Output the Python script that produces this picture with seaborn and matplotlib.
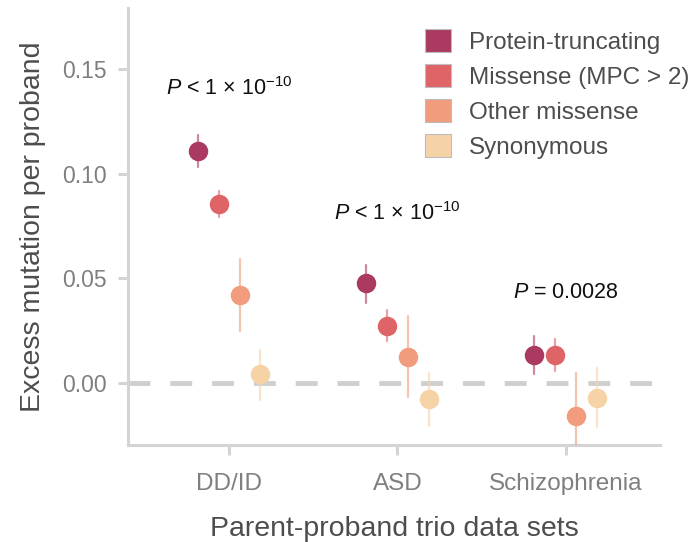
import numpy as np
import pandas as pd
import matplotlib
matplotlib.use("Agg")
import matplotlib.pyplot as plt
import matplotlib.patches as mpatches
import seaborn as sns

# ---- data ----
datasets = ["DD/ID", "ASD", "Schizophrenia"]
classes = ["Protein-truncating", "Missense (MPC > 2)", "Other missense", "Synonymous"]
colors = ["#AA3A62", "#DE6468", "#F19C7C", "#F5D3A6"]

# estimates per dataset, ordered as in `classes`
est_ddid = [0.111, 0.0856, 0.0421, 0.0043]
est_asd = [0.0477, 0.0274, 0.0126, -0.0078]
est_scz = [0.0134, 0.0134, -0.0158, -0.0073]
lo_ddid = [0.1033, 0.0796, 0.0250, -0.0081]
lo_asd = [0.0384, 0.0202, -0.0065, -0.0206]
lo_scz = [0.0042, 0.0057, -0.0350, -0.0212]
hi_ddid = [0.1184, 0.0920, 0.0593, 0.0158]
hi_asd = [0.0566, 0.0349, 0.0321, 0.0049]
hi_scz = [0.0225, 0.0211, 0.0046, 0.0070]

pvals = [r"$P$ < 1 × 10$^{−10}$", r"$P$ < 1 × 10$^{−10}$", r"$P$ = 0.0028"]
pval_y = [0.141, 0.081, 0.0435]

rows = []
for ds, est, lo, hi in zip(datasets, [est_ddid, est_asd, est_scz],
                           [lo_ddid, lo_asd, lo_scz], [hi_ddid, hi_asd, hi_scz]):
    for c, e, l, h in zip(classes, est, lo, hi):
        for v in (l, e, h):
            rows.append({"dataset": ds, "class": c, "value": v})
df = pd.DataFrame(rows)

# ---- style ----
sns.set_theme(style="white")
plt.rcParams["font.family"] = ["Liberation Sans", "DejaVu Sans"]
plt.rcParams["mathtext.fontset"] = "custom"
plt.rcParams["mathtext.rm"] = "Liberation Sans"
plt.rcParams["mathtext.it"] = "Liberation Sans:italic"

spine_col = "#d4d4d4"
fig = plt.figure(figsize=(6.96, 5.42), dpi=100)
ax = fig.add_axes([128 / 696, 1 - 445 / 542, (660 - 128) / 696, (445 - 8) / 542])

ax.axhline(0, color="#cfcfcf", lw=3.5, dashes=(4.5, 4.1), zorder=1)

sns.pointplot(data=df, x="dataset", y="value", hue="class",
              order=datasets, hue_order=classes, palette=colors,
              estimator="median", errorbar=lambda v: (np.min(v), np.max(v)),
              dodge=0.374, linestyle="none", markers="o", markersize=12,
              err_kws={"linewidth": 1.6, "alpha": 0.6},
              legend=False, ax=ax, zorder=3)

ax.set_xlim(-0.6, 2.56)
ax.set_ylim(-0.0297, 0.1794)
ax.set_yticks([0.0, 0.05, 0.10, 0.15])
ax.set_yticklabels(["0.00", "0.05", "0.10", "0.15"])

for s in ["top", "right"]:
    ax.spines[s].set_visible(False)
for s in ["left", "bottom"]:
    ax.spines[s].set_color(spine_col)
    ax.spines[s].set_linewidth(2.2)

ax.tick_params(axis="both", which="major", length=7, width=2.2, color=spine_col,
               labelcolor="#7f7f7f", left=True, bottom=True)
ax.tick_params(axis="y", labelsize=16.5, pad=8)
ax.tick_params(axis="x", labelsize=17.5, pad=13)

ax.set_xlabel("Parent-proband trio data sets", fontsize=20.5, color="#4d4d4d", labelpad=15)
ax.set_ylabel("Excess mutation per proband", fontsize=20.5, color="#4d4d4d", labelpad=12)

for i, (txt, yv) in enumerate(zip(pvals, pval_y)):
    ax.text(i, yv, txt, ha="center", va="center", fontsize=15.5, color="#111111")

handles = [mpatches.Patch(facecolor=c, edgecolor="#bdbdbd", linewidth=0.8, label=l)
           for c, l in zip(colors, classes)]
fig.legend(handles=handles, loc="upper left", bbox_to_anchor=(425 / 696, 1 - 29 / 542),
           frameon=False, fontsize=17.5, handlelength=1.07, handleheight=1.07,
           handletextpad=0.75, labelspacing=0.43, borderpad=0, borderaxespad=0,
           labelcolor="#4d4d4d")

fig.savefig("out.png", dpi=100)
